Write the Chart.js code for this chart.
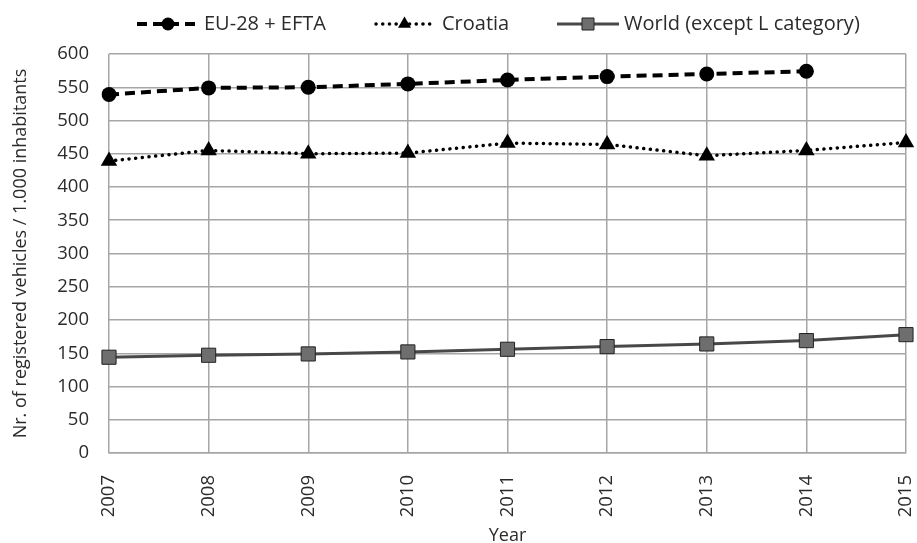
<!DOCTYPE html>
<html>
<head>
<meta charset="utf-8">
<script src="https://cdn.jsdelivr.net/npm/chart.js@4"></script>
<style>
  html, body { margin: 0; padding: 0; background: #fff; }
  #wrap { width: 917px; height: 543px; }
</style>
</head>
<body>
<div id="wrap"><canvas id="vehChart" width="917" height="543"></canvas></div>
<script>
var years = ["2007", "2008", "2009", "2010", "2011", "2012", "2013", "2014", "2015"];
var euEfta = [539, 549, 550, 555, 561, 566, 570, 574, null];
var croatia = [439, 455, 450, 451, 466, 464, 447, 455, 467];
var world = [144, 147, 149, 152, 156, 160, 164, 169, 178];

var FONT = "'Open Sans'";
var TXT = "#2b2b2b";

// legend drawn like the spreadsheet one: line sample + marker + label
var lineLegend = {
   id: "lineLegend",
   afterDraw: function (chart) {
      var c = chart.ctx;
      var items = [
         { ds: 0, x0: 137, x1: 199, tx: 204, r: 6.5 },
         { ds: 1, x0: 376, x1: 433, tx: 442, r: 7.5 },
         { ds: 2, x0: 557, x1: 619, tx: 624, r: 8.5 }
      ];
      var y = 24;
      c.save();
      items.forEach(function (it) {
         var d = chart.data.datasets[it.ds];
         c.beginPath();
         c.lineWidth = d.borderWidth;
         c.strokeStyle = d.borderColor;
         c.lineCap = d.borderCapStyle || "butt";
         c.setLineDash(d.borderDash || []);
         c.moveTo(it.x0, y);
         c.lineTo(it.x1, y);
         c.stroke();
         c.setLineDash([]);
         c.fillStyle = d.pointBackgroundColor;
         c.strokeStyle = d.pointBorderColor;
         c.lineWidth = d.pointBorderWidth;
         Chart.helpers.drawPoint(c, {
            pointStyle: d.pointStyle,
            radius: it.r,
            borderWidth: d.pointBorderWidth,
            rotation: 0
         }, (it.x0 + it.x1) / 2, y);
         c.fillStyle = TXT;
         c.font = "20px " + FONT;
         c.textBaseline = "middle";
         c.fillText(d.label, it.tx, y);
      });
      c.restore();
   }
};

var ctx = document.getElementById("vehChart").getContext("2d");
var chart = new Chart(ctx, {
   type: "line",
   data: {
      labels: years,
      datasets: [
         {
            label: "EU-28 + EFTA",
            data: euEfta,
            borderColor: "#000",
            borderWidth: 4,
            borderDash: [10, 6],
            pointStyle: "circle",
            pointRadius: 7.5,
            pointBackgroundColor: "#000",
            pointBorderColor: "#000",
            pointBorderWidth: 0,
            tension: 0
         },
         {
            label: "Croatia",
            data: croatia,
            borderColor: "#000",
            borderWidth: 3.5,
            borderDash: [0.1, 6.6],
            borderCapStyle: "round",
            pointStyle: "triangle",
            pointRadius: 9.5,
            pointBackgroundColor: "#000",
            pointBorderColor: "#000",
            pointBorderWidth: 0,
            tension: 0
         },
         {
            label: "World (except L category)",
            data: world,
            borderColor: "#484848",
            borderWidth: 3,
            pointStyle: "rect",
            pointRadius: 10,
            pointBackgroundColor: "#6e6e6e",
            pointBorderColor: "#222",
            pointBorderWidth: 1,
            tension: 0
         }
      ]
   },
   options: {
      responsive: false,
      animation: false,
      layout: { padding: { left: 4, right: 10, top: 54, bottom: 0 } },
      plugins: {
         legend: { display: false },
         tooltip: { enabled: false }
      },
      scales: {
         x: {
            offset: false,
            grid: { color: "#a6a6a6", lineWidth: 1.5, drawTicks: false },
            border: { color: "#a6a6a6", width: 1.5 },
            ticks: {
               color: TXT,
               font: { family: FONT, size: 18.5 },
               minRotation: 90,
               maxRotation: 90,
               padding: 22
            },
            title: {
               display: true,
               text: "Year",
               color: TXT,
               font: { family: FONT, size: 18 },
               padding: { top: 0, bottom: -4 }
            },
            afterFit: function (s) {
               s.height = 90;
               s.paddingLeft = 0;
               s.paddingRight = 0;
            }
         },
         y: {
            min: 0,
            max: 600,
            grid: { color: "#a6a6a6", lineWidth: 1.5, drawTicks: false },
            border: { display: false },
            ticks: {
               stepSize: 50,
               color: TXT,
               font: { family: FONT, size: 18.5 },
               padding: 20
            },
            title: {
               display: true,
               text: "Nr. of registered vehicles / 1.000 inhabitants",
               color: TXT,
               font: { family: FONT, size: 18 },
               padding: { top: 6, bottom: 2 }
            },
            afterFit: function (s) { s.width = 105; }
         }
      }
   },
   plugins: [lineLegend]
});
</script>
</body>
</html>
